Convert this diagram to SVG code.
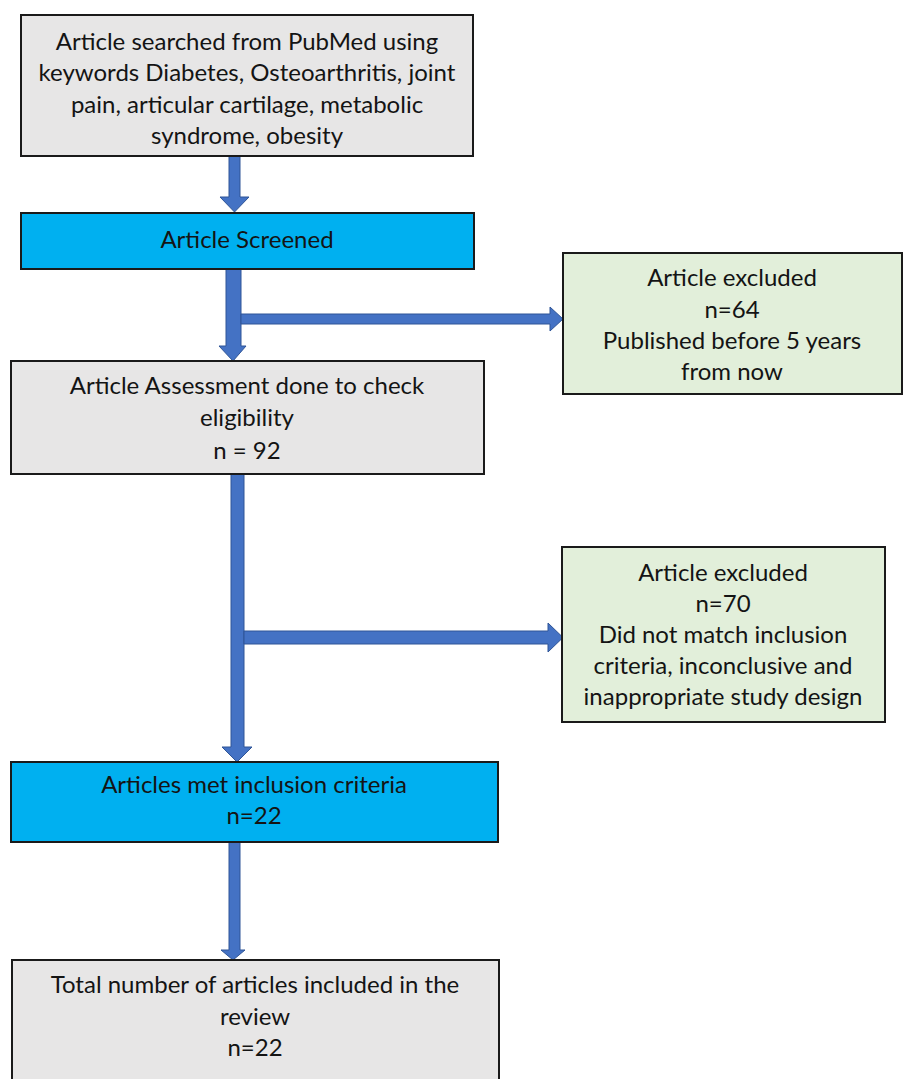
<svg xmlns="http://www.w3.org/2000/svg" width="903" height="1079" viewBox="0 0 903 1079">
<style>
.box{stroke:#1a1a1a;stroke-width:2}
.gray{fill:#e7e6e6}
.blue{fill:#00b0f0}
.green{fill:#e2efda}
.arrow{fill:#4472c4;stroke:#2f5597;stroke-width:1}
text{font-family:Lato,"Liberation Sans",sans-serif;font-size:24px;fill:#141414;text-anchor:middle}
</style>
<rect width="903" height="1079" fill="#ffffff"/>
<g id="connectors">
<polygon class="arrow" points="229,156 240,156 240,197 249,197 234.5,212 220,197 229,197"/>
<polygon class="arrow" points="226,269 241,269 241,346 246,346 233,361 219,346 226,346"/>
<polygon class="arrow" points="241,314 550,314 550,307 563,319 550,331 550,324 241,324"/>
<polygon class="arrow" points="231,474 244,474 244,747 252,747 237,762 222,747 231,747"/>
<polygon class="arrow" points="244,631 548,631 548,623 563,637.5 548,652 548,644 244,644"/>
<polygon class="arrow" points="229,842 240,842 240,950 245,950 233,960 221,950 229,950"/>
</g>
<g id="n1">
<rect class="box gray" x="21" y="15" width="452" height="141"/>
<text x="247" y="50">Article searched from PubMed using</text>
<text x="247" y="81">keywords Diabetes, Osteoarthritis, joint</text>
<text x="247" y="113">pain, articular cartilage, metabolic</text>
<text x="247" y="144">syndrome, obesity</text>
</g>
<g id="n2">
<rect class="box blue" x="21" y="213" width="453" height="56"/>
<text x="247" y="248">Article Screened</text>
</g>
<g id="n3">
<rect class="box green" x="563" y="253" width="339" height="141"/>
<text x="732" y="286">Article excluded</text>
<text x="732" y="318">n=64</text>
<text x="732" y="349">Published before 5 years</text>
<text x="732" y="380">from now</text>
</g>
<g id="n4">
<rect class="box gray" x="11" y="361" width="473" height="113"/>
<text x="247" y="394">Article Assessment done to check</text>
<text x="247" y="426">eligibility</text>
<text x="247" y="459">n = 92</text>
</g>
<g id="n5">
<rect class="box green" x="562" y="547" width="323" height="175"/>
<text x="723" y="581">Article excluded</text>
<text x="723" y="612">n=70</text>
<text x="723" y="643">Did not match inclusion</text>
<text x="723" y="674">criteria, inconclusive and</text>
<text x="723" y="705">inappropriate study design</text>
</g>
<g id="n6">
<rect class="box blue" x="11" y="762" width="487" height="80"/>
<text x="254" y="793">Articles met inclusion criteria</text>
<text x="254" y="824">n=22</text>
</g>
<g id="n7">
<rect class="box gray" x="12" y="960" width="487" height="130"/>
<text x="255" y="993">Total number of articles included in the</text>
<text x="255" y="1025">review</text>
<text x="255" y="1056">n=22</text>
</g>
</svg>
